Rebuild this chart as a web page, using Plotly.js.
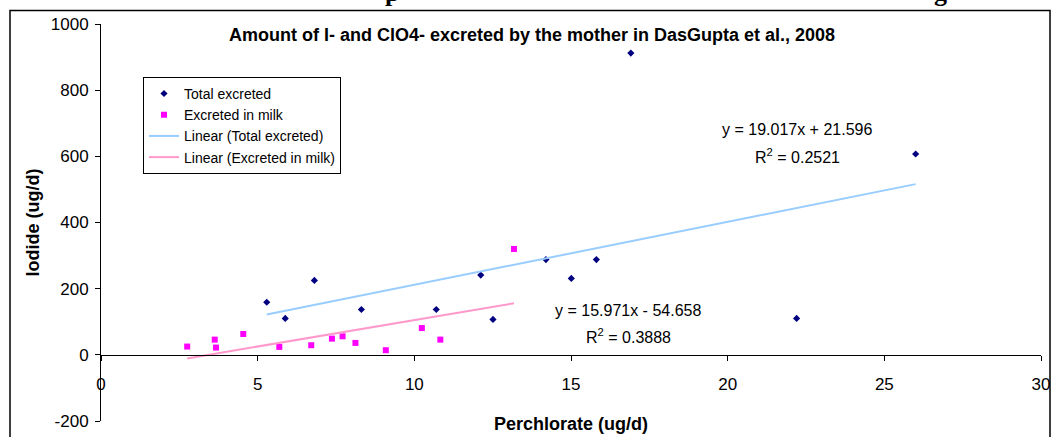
<!DOCTYPE html>
<html>
<head>
<meta charset="utf-8">
<script src="https://cdn.plot.ly/plotly-3.0.1.min.js"></script>
<style>
  html, body { margin: 0; padding: 0; background: #fff; }
  #chart { width: 1052px; height: 437px; }
</style>
</head>
<body>
<div id="chart"></div>
<script>
// ---- data ----
const seriesNames = ["Total excreted", "Excreted in milk"];
const totalX = [5.29, 5.88, 6.81, 8.31, 10.70, 12.12, 12.51, 14.20, 15.01, 15.81, 16.91, 22.20, 26.00];
const totalY = [159, 110, 225, 137, 137, 241, 107, 288, 231, 288, 912, 110, 607];
const milkX = [2.75, 3.63, 3.67, 4.54, 5.69, 6.71, 7.37, 7.71, 8.12, 9.09, 10.24, 10.83, 13.18];
const milkY = [25, 46, 22, 63, 24, 29, 49, 56, 36, 14, 81, 46, 320];
const trendSlope = [19.017, 15.971];
const trendIntercept = [21.596, -54.658];
const trendR2 = ["0.2521", "0.3888"];
const xTickVals = [0, 5, 10, 15, 20, 25, 30];
const yTickVals = [-200, 0, 200, 400, 600, 800, 1000];

const FONT = "Liberation Sans, Arial, sans-serif";
const SERIF = "Liberation Serif, Times New Roman, serif";

function trend(xs, i) {
  const lo = Math.min(...xs), hi = Math.max(...xs);
  return { x: [lo, hi], y: [lo, hi].map(v => trendSlope[i] * v + trendIntercept[i]) };
}
function eqText(i) {
  const b = trendIntercept[i];
  return "y = " + trendSlope[i].toFixed(3) + "x " + (b < 0 ? "- " : "+ ") + Math.abs(b).toFixed(3);
}

const tTot = trend(totalX, 0), tMilk = trend(milkX, 1);

const traces = [
  { type: "scatter", mode: "markers", name: seriesNames[0], x: totalX, y: totalY,
    marker: { symbol: "diamond", size: 5.5, color: "#000080" } },
  { type: "scatter", mode: "markers", name: seriesNames[1], x: milkX, y: milkY,
    marker: { symbol: "square", size: 6, color: "#FF00FF" } },
  { type: "scatter", mode: "lines", name: "Linear (" + seriesNames[0] + ")", x: tTot.x, y: tTot.y,
    line: { color: "#99CCFF", width: 2 } },
  { type: "scatter", mode: "lines", name: "Linear (" + seriesNames[1] + ")", x: tMilk.x, y: tMilk.y,
    line: { color: "#FF99CC", width: 2 } }
];

const px2x = p => (p - 101) / 940;
const px2y = p => (421.5 - p) / 397.5;

const layout = {
  width: 1052, height: 437,
  margin: { l: 101, r: 11, t: 24, b: 15.5 },
  paper_bgcolor: "#fff", plot_bgcolor: "rgba(0,0,0,0)",
  font: { family: FONT, color: "#000", size: 15 },
  showlegend: true,
  title: { text: "<b>Amount of I- and ClO4- excreted by the mother in DasGupta et al., 2008</b>",
           font: { family: FONT, size: 18, color: "#000" },
           xref: "container", yref: "container", x: 532 / 1052, y: 1 - 35 / 437,
           xanchor: "center", yanchor: "middle" },
  xaxis: {
    range: [0, 30], tickvals: xTickVals, ticktext: xTickVals.map(String),
    anchor: "free", position: 200 / 1200,
    showline: true, linecolor: "#000", linewidth: 1,
    ticks: "outside", ticklen: 5, tickcolor: "#000", tickwidth: 1,
    showgrid: false, zeroline: false,
    tickfont: { family: FONT, size: 17 }, ticklabelstandoff: 9,
    title: { text: "<b>Perchlorate (ug/d)</b>", font: { family: FONT, size: 18 }, standoff: 24 }
  },
  yaxis: {
    range: [-200, 1000], tickvals: yTickVals, ticktext: yTickVals.map(String),
    showline: true, linecolor: "#000", linewidth: 1,
    ticks: "outside", ticklen: 5, tickcolor: "#000", tickwidth: 1,
    showgrid: false, zeroline: false,
    tickfont: { family: FONT, size: 17 }, ticklabelstandoff: 3,
    title: { text: "<b>Iodide (ug/d)</b>", font: { family: FONT, size: 18 }, standoff: 6 }
  },
  legend: {
    x: px2x(143), y: px2y(77), xanchor: "left", yanchor: "top",
    bgcolor: "#fff", bordercolor: "#000", borderwidth: 1,
    font: { family: FONT, size: 14 }, traceorder: "normal"
  },
  shapes: [
    { type: "rect", xref: "paper", yref: "paper",
      x0: px2x(10), x1: px2x(1050), y0: -0.2, y1: px2y(10.5),
      line: { color: "#000", width: 1.5 }, fillcolor: "rgba(0,0,0,0)", layer: "below" }
  ],
  annotations: [
    { xref: "paper", yref: "paper", x: px2x(797), y: px2y(130),
      text: eqText(0), showarrow: false, xanchor: "center", yanchor: "middle", font: { family: FONT, size: 16 } },
    { xref: "paper", yref: "paper", x: px2x(797), y: px2y(156),
      text: "R<sup>2</sup> = " + trendR2[0], showarrow: false, xanchor: "center", yanchor: "middle", font: { family: FONT, size: 16 } },
    { xref: "paper", yref: "paper", x: px2x(628), y: px2y(311),
      text: eqText(1), showarrow: false, xanchor: "center", yanchor: "middle", font: { family: FONT, size: 16 } },
    { xref: "paper", yref: "paper", x: px2x(628), y: px2y(336),
      text: "R<sup>2</sup> = " + trendR2[1], showarrow: false, xanchor: "center", yanchor: "middle", font: { family: FONT, size: 16 } },
    // descenders of the page heading that is cut off above the chart
    { xref: "paper", yref: "paper", x: px2x(392), y: px2y(8), text: "<b>p</b>", showarrow: false,
      xanchor: "center", yanchor: "bottom", borderpad: 0, font: { family: SERIF, size: 26 } },
    { xref: "paper", yref: "paper", x: px2x(940), y: px2y(8), text: "<b>g</b>", showarrow: false,
      xanchor: "center", yanchor: "bottom", borderpad: 0, font: { family: SERIF, size: 26 } }
  ]
};

Plotly.newPlot("chart", traces, layout, { displayModeBar: false, staticPlot: true });
</script>
</body>
</html>
